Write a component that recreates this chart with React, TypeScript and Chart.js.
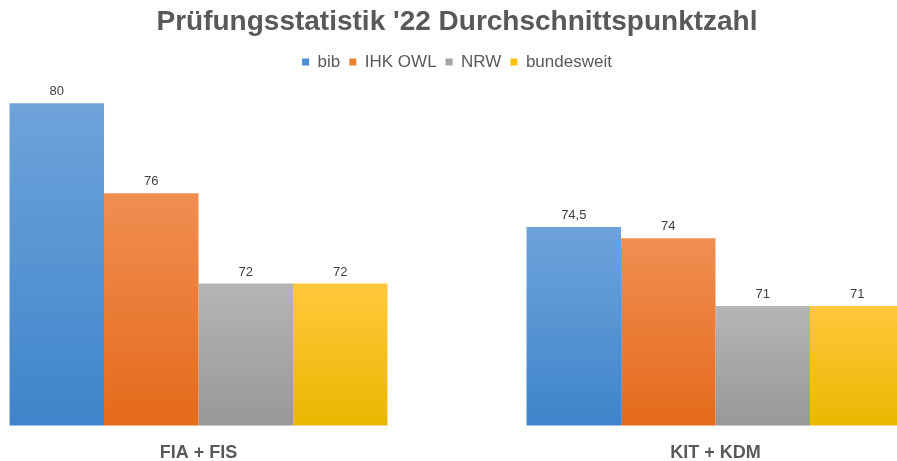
import React, { useEffect, useRef } from "react";
import { Chart, registerables } from "chart.js";

Chart.register(...registerables);

const categories = ["FIA + FIS", "KIT + KDM"];
const seriesNames = ["bib", "IHK OWL", "NRW", "bundesweit"];
const bibValues = [80, 74.5];
const ihkValues = [76, 74];
const nrwValues = [72, 71];
const bundValues = [72, 71];

const topColors = ["#6ea3da", "#f08e52", "#b5b5b5", "#ffc83c"];
const bottomColors = ["#3e85cb", "#e56a1b", "#989898", "#e9b800"];
const legendColors = ["#4a8fd3", "#ed7d31", "#a5a5a5", "#ffc000"];

const FONT = "'Liberation Sans', Arial, sans-serif";

function gradientFor(idx: number) {
  return (ctx: any) => {
    const chart = ctx.chart;
    const area = chart.chartArea;
    if (!area || ctx.type !== "data") return legendColors[idx];
    const y = chart.scales.y;
    const v = ctx.parsed ? ctx.parsed.y : ctx.raw;
    const top = y.getPixelForValue(v);
    const bottom = area.bottom;
    const g = chart.ctx.createLinearGradient(0, top, 0, bottom);
    g.addColorStop(0, topColors[idx]);
    g.addColorStop(1, bottomColors[idx]);
    return g;
  };
}

const valueLabels = {
  id: "valueLabels",
  afterDatasetsDraw(chart: any) {
    const ctx = chart.ctx;
    ctx.save();
    ctx.font = `13px ${FONT}`;
    ctx.fillStyle = "#404040";
    ctx.textAlign = "center";
    ctx.textBaseline = "bottom";
    chart.data.datasets.forEach((ds: any, i: number) => {
      const meta = chart.getDatasetMeta(i);
      meta.data.forEach((bar: any, j: number) => {
        const txt = String(ds.data[j]).replace(".", ",");
        ctx.fillText(txt, bar.x, bar.y - 5);
      });
    });
    ctx.restore();
  },
};

export default function App() {
  const ref = useRef<HTMLCanvasElement>(null);
  useEffect(() => {
    if (!ref.current) return;
    const seriesData = [bibValues, ihkValues, nrwValues, bundValues];
    const chart = new Chart(ref.current, {
      type: "bar",
      data: {
        labels: categories,
        datasets: seriesNames.map((name, i) => ({
          label: name,
          data: seriesData[i],
          backgroundColor: gradientFor(i),
          borderWidth: 0,
          categoryPercentage: 0.731,
          barPercentage: 1,
        })),
      },
      options: {
        animation: false,
        responsive: false,
        maintainAspectRatio: false,
        layout: { padding: { top: 5, bottom: 0, left: 0, right: 0 } },
        plugins: {
          title: {
            display: true,
            text: "Prüfungsstatistik '22 Durchschnittspunktzahl",
            color: "#595959",
            font: { family: FONT, size: 28, weight: "bold" },
            padding: { top: 0, bottom: 6 },
          },
          legend: {
            display: true,
            labels: {
              color: "#595959",
              font: { family: FONT, size: 17 },
              boxWidth: 7,
              boxHeight: 7,
              padding: 9,
              generateLabels: () =>
                seriesNames.map((n, i) => ({
                  text: n,
                  fillStyle: legendColors[i],
                  strokeStyle: legendColors[i],
                  lineWidth: 0,
                  hidden: false,
                  datasetIndex: i,
                  fontColor: "#595959",
                })),
            },
          },
          tooltip: { enabled: false },
        },
        scales: {
          x: {
            grid: { display: false },
            border: { display: false },
            ticks: {
              color: "#595959",
              font: { family: FONT, size: 18, weight: "bold" },
              padding: 9,
            },
          },
          y: {
            display: false,
            min: 65.7,
            max: 81,
          },
        },
      },
      plugins: [valueLabels],
    });
    return () => chart.destroy();
  }, []);
  return (
    <div
      style={{
        position: "fixed",
        left: 0,
        top: 0,
        width: 897,
        height: 461,
        overflow: "hidden",
        background: "#fff",
      }}
    >
      <canvas
        ref={ref}
        width={1034}
        height={473}
        style={{ position: "absolute", left: -60, top: 0, width: 1034, height: 473 }}
      />
    </div>
  );
}
